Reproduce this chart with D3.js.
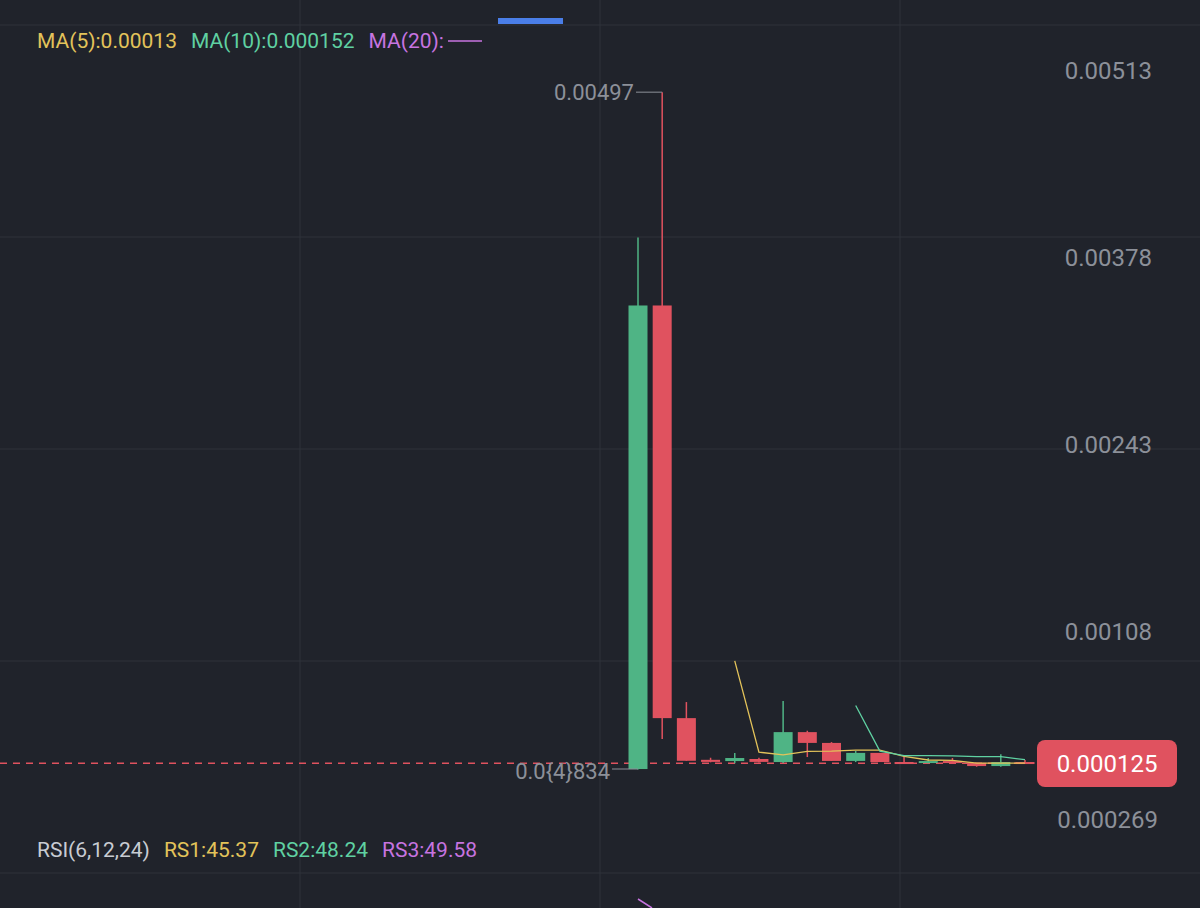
<!DOCTYPE html><html><head><meta charset="utf-8">
<script src="https://cdn.jsdelivr.net/npm/d3@7/dist/d3.min.js"></script>
<style>body{margin:0;background:#20232b}svg{display:block;font-family:Roboto,"Noto Sans",sans-serif}</style></head><body>
<svg id="c" width="1200" height="908"></svg>
<script>
const opens  = [0.0000834,0.00343,0.000451,0.00015,0.000141,0.000156,0.000134,0.00035,0.000272,0.000142,0.0002,0.000134,0.000127,0.000141,0.000128,0.000105,0.000134];
const closes = [0.00343,0.000451,0.000143,0.000135,0.000163,0.000135,0.00035,0.000272,0.000142,0.0002,0.000134,0.000127,0.000141,0.000127,0.000105,0.000134,0.000125];
const highs  = [0.00392,0.00497,0.000567,0.000165,0.0002,0.000165,0.000575,0.00036,0.000278,0.000214,0.0002,0.000178,0.000163,0.000163,0.000128,0.00019,0.000149];
const lows   = [0.00008,0.0003,0.000143,0.000132,0.000126,0.00013,0.000127,0.00017,0.000142,0.000134,0.000134,0.000125,0.000125,0.000125,0.0001,0.0001,0.000122];
const yTicks = [0.00513,0.00378,0.00243,0.00108];
const lastPrice = 0.000125;
const svg=d3.select("#c");
const W=1200,H=908;
const y=d3.scaleLinear().domain([0,0.00513]).range([780.6,70]);
const x=d3.scaleLinear().domain([0,16]).range([638,1025]);
const grid="#2e323b", txt="#8c9099", G="#4fb485", R="#e0525f";
// grid
[25,237,449,661,873].forEach(g=>svg.append("line").attr("x1",0).attr("x2",W).attr("y1",g).attr("y2",g).attr("stroke",grid));
[300,600,900].forEach(g=>svg.append("line").attr("y1",0).attr("y2",H).attr("x1",g).attr("x2",g).attr("stroke",grid));
// y tick labels
svg.selectAll(".yt").data(yTicks).join("text").attr("x",1152).attr("y",d=>y(d)+9).attr("text-anchor","end")
 .attr("font-size",24).attr("fill",txt).text(d=>d);
svg.append("text").attr("x",1158).attr("y",828).attr("text-anchor","end").attr("font-size",24).attr("fill",txt).text("0.000269");
// last price dashed line
svg.append("line").attr("x1",0).attr("x2",1037).attr("y1",y(lastPrice)).attr("y2",y(lastPrice)).attr("stroke",R).attr("stroke-width",1.6).attr("stroke-dasharray","7,6");
// candles
const bw=19;
closes.forEach((c,i)=>{
  const o=opens[i], col=c>=o?G:R, cx=x(i);
  svg.append("line").attr("x1",cx).attr("x2",cx).attr("y1",y(highs[i])).attr("y2",y(lows[i])).attr("stroke",col).attr("stroke-width",1.5);
  const t=Math.min(y(o),y(c)), h=Math.max(2,Math.abs(y(o)-y(c)));
  svg.append("rect").attr("x",cx-bw/2).attr("y",t).attr("width",bw).attr("height",h).attr("fill",col);
});
// MAs
function ma(n){return closes.map((c,i)=>i<n-1?null:d3.mean(closes.slice(i-n+1,i+1)));}
const line=d3.line().defined(d=>d[1]!=null).x(d=>x(d[0])).y(d=>y(d[1]));
svg.append("path").attr("d",line(ma(5).map((v,i)=>[i,v]))).attr("fill","none").attr("stroke","#e3c35a").attr("stroke-width",1.3);
svg.append("path").attr("d",line(ma(10).map((v,i)=>[i,v]))).attr("fill","none").attr("stroke","#5fd1a2").attr("stroke-width",1.3);
// high/low labels
svg.append("line").attr("x1",636).attr("x2",x(1)).attr("y1",y(0.00497)).attr("y2",y(0.00497)).attr("stroke",txt);
svg.append("text").attr("x",634).attr("y",y(0.00497)+8).attr("text-anchor","end").attr("font-size",22).attr("fill",txt).text("0.00497");
svg.append("line").attr("x1",612).attr("x2",x(0)).attr("y1",769).attr("y2",769).attr("stroke",txt);
svg.append("text").attr("x",610).attr("y",779).attr("text-anchor","end").attr("font-size",22).attr("fill",txt).text("0.0{4}834");
// price tag
svg.append("rect").attr("x",1037).attr("y",740).attr("width",140).attr("height",47).attr("rx",8).attr("fill",R);
svg.append("text").attr("x",1107).attr("y",772).attr("text-anchor","middle").attr("font-size",24).attr("fill","#fff").text("0.000125");
// legends
const leg=svg.append("text").attr("x",37).attr("y",48).attr("font-size",21);
leg.append("tspan").attr("fill","#e3c35a").text("MA(5):0.00013");
leg.append("tspan").attr("dx",14).attr("fill","#5fd1a2").text("MA(10):0.000152");
leg.append("tspan").attr("dx",14).attr("fill","#c774e0").text("MA(20):");
svg.append("line").attr("x1",448).attr("x2",482).attr("y1",41).attr("y2",41).attr("stroke","#c774e0").attr("stroke-width",1.5);
svg.append("rect").attr("x",498).attr("y",18).attr("width",65).attr("height",6).attr("fill","#4a7ee8");
const rl=svg.append("text").attr("x",37).attr("y",857).attr("font-size",21);
rl.append("tspan").attr("fill","#c8ccd3").text("RSI(6,12,24)");
rl.append("tspan").attr("dx",14).attr("fill","#e3c35a").text("RS1:45.37");
rl.append("tspan").attr("dx",14).attr("fill","#5fd1a2").text("RS2:48.24");
rl.append("tspan").attr("dx",14).attr("fill","#c774e0").text("RS3:49.58");
svg.append("line").attr("x1",638).attr("x2",652).attr("y1",899).attr("y2",908).attr("stroke","#c774e0").attr("stroke-width",1.5);
</script></body></html>
